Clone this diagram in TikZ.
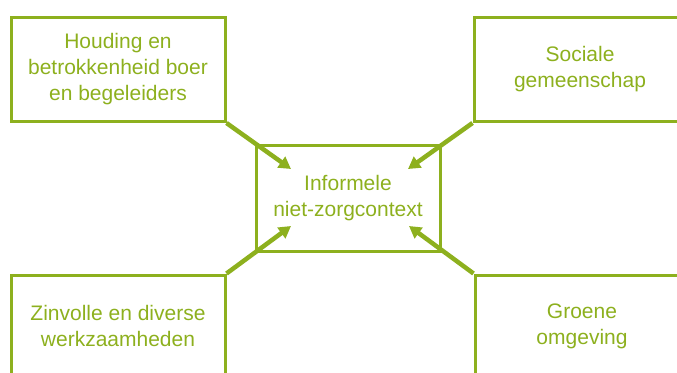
\documentclass[tikz,border=0pt]{standalone}
\usepackage{fontspec}
\setmainfont{Liberation Sans}
\usetikzlibrary{arrows.meta}
\definecolor{olive}{RGB}{141,176,30}
\tikzset{
  box/.style={draw=olive, line width=3pt, text=olive, align=center, inner sep=0pt,
    font=\fontsize{21}{26}\selectfont},
  arr/.style={draw=olive, line width=4.5pt, -{Triangle[length=12pt,width=13pt]}}
}
\begin{document}
\begin{tikzpicture}[x=1pt,y=-1pt]
\useasboundingbox (0,0) rectangle (677,372);
\clip (0,0) rectangle (677,372);
\node[box, minimum width=214pt, minimum height=104pt] (tl) at (118,69.5) {Houding en\\betrokkenheid boer\\en begeleiders};
\node[box, minimum width=212pt, minimum height=104pt] (tr) at (580,69.5) {Sociale\\gemeenschap};
\node[box, minimum width=184pt, minimum height=106pt] (c) at (348,198) {Informele\\niet-zorgcontext};
\node[box, minimum width=214pt, minimum height=102pt] (bl) at (118,326) {Zinvolle en diverse\\werkzaamheden};
\node[box, minimum width=214pt, minimum height=102pt] (br) at (582,326) {Groene\\omgeving};
\coordinate (ttl) at (291,169);
\coordinate (ttr) at (408,169);
\coordinate (tbl) at (291,226);
\coordinate (tbr) at (409,226);
\draw[arr] (tl.south east) -- (ttl);
\draw[arr] (tr.south west) -- (ttr);
\draw[arr] (bl.north east) -- (tbl);
\draw[arr] (br.north west) -- (tbr);
\end{tikzpicture}
\end{document}
